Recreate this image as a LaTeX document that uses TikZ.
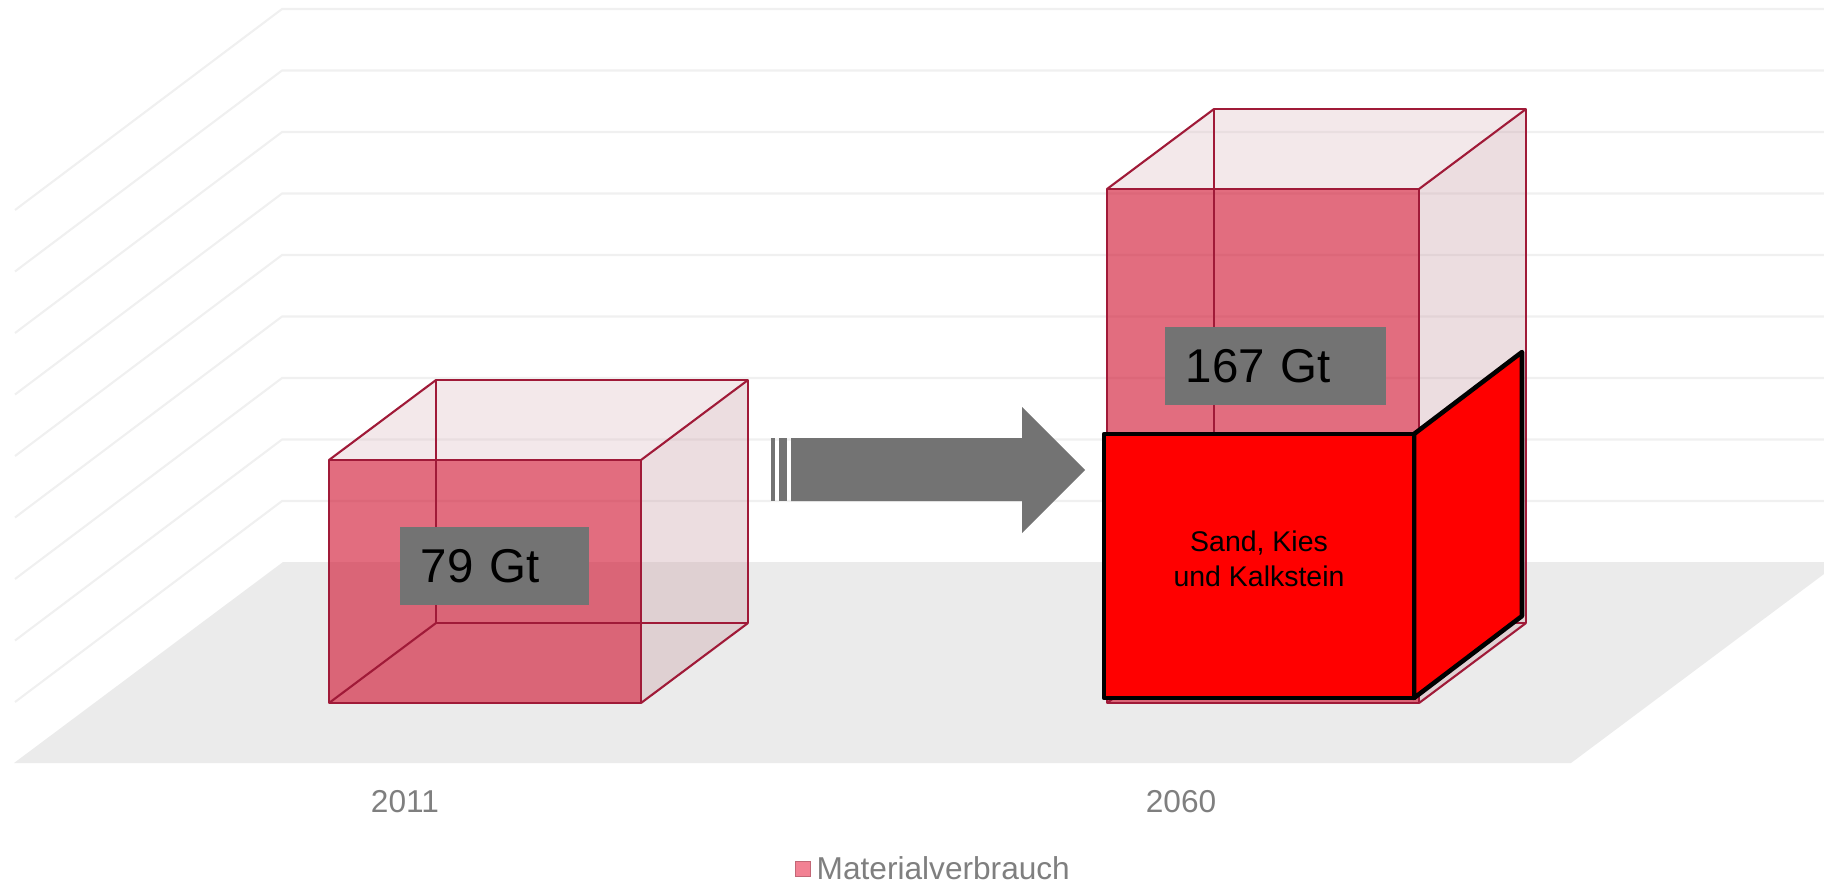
\documentclass[tikz,border=0pt]{standalone}
\usepackage{fontspec}
\setmainfont{Liberation Sans}

\definecolor{rejilla}{HTML}{F0F0F0}
\definecolor{suelo}{HTML}{EBEBEB}
\definecolor{borde}{HTML}{A01A38}
\definecolor{frente}{RGB}{210,30,58}
\definecolor{tapa}{RGB}{221,189,195}
\definecolor{lado}{RGB}{201,158,166}
\definecolor{etiqueta}{HTML}{737373}
\definecolor{textoeje}{HTML}{7F7F7F}
\definecolor{leyenda}{HTML}{F28193}

\begin{document}
\begin{tikzpicture}[x=0.1mm, y=-0.1mm]
    % Estilo para la rejilla y el suelo
    \tikzstyle{grid_style} = [draw=rejilla, line width=0.6pt]

    % Estilos para las caras de los cubos
    \tikzstyle{front_face} = [fill=frente, fill opacity=0.65]
    \tikzstyle{top_face} = [fill=tapa, fill opacity=0.35]
    \tikzstyle{side_face} = [fill=lado, fill opacity=0.35]
    \tikzstyle{edge_style} = [draw=borde, line width=0.6pt, line join=round]
    \tikzstyle{solid_style} = [fill=red, draw=black, line width=1.3pt, line join=round]

    % Estilo para las etiquetas de texto
    \tikzstyle{label_style} = [fill=etiqueta, text=black, anchor=north west, align=left, inner xsep=2.1mm, minimum height=7.8mm, font=\fontsize{13.5}{16}\selectfont]
    \tikzstyle{axis_style} = [text=textoeje, font=\fontsize{9}{11}\selectfont]
    \tikzstyle{arrow_style} = [fill=etiqueta]

    \useasboundingbox (0,0) rectangle (1824,882);

    % Suelo y rejilla del fondo
    \fill[suelo] (14,763) -- (283,562) -- (1824,562) -- (1824,574) -- (1571,763) -- cycle;
    \foreach \y in {9,70.5,...,501} {
        \draw[grid_style] (15,\y+201) -- (282,\y) -- (1824,\y);
    }

    % Cubo 2011
    \coordinate (p1) at (329,703);
    \coordinate (p2) at (641,703);
    \coordinate (p3) at (641,460);
    \coordinate (p4) at (329,460);
    \coordinate (p5) at (436,623);
    \coordinate (p6) at (748,623);
    \coordinate (p7) at (748,380);
    \coordinate (p8) at (436,380);
    \fill[top_face] (p4) -- (p3) -- (p7) -- (p8) -- cycle;
    \fill[side_face] (p2) -- (p6) -- (p7) -- (p3) -- cycle;
    \fill[front_face] (p1) rectangle (p3);
    \draw[edge_style] (p5) -- (p6) -- (p7) -- (p8) -- cycle;
    \draw[edge_style] (p1) -- (p5) (p2) -- (p6) (p3) -- (p7) (p4) -- (p8);
    \draw[edge_style] (p1) -- (p2) -- (p3) -- (p4) -- cycle;

    % Cubo 2060
    \coordinate (q1) at (1107,703);
    \coordinate (q2) at (1419,703);
    \coordinate (q3) at (1419,189);
    \coordinate (q4) at (1107,189);
    \coordinate (q5) at (1214,623);
    \coordinate (q6) at (1526,623);
    \coordinate (q7) at (1526,109);
    \coordinate (q8) at (1214,109);
    \fill[top_face] (q4) -- (q3) -- (q7) -- (q8) -- cycle;
    \fill[side_face] (q2) -- (q6) -- (q7) -- (q3) -- cycle;
    \fill[front_face] (q1) rectangle (q3);
    \draw[edge_style] (q5) -- (q6) -- (q7) -- (q8) -- cycle;
    \draw[edge_style] (q1) -- (q5) (q2) -- (q6) (q3) -- (q7) (q4) -- (q8);
    \draw[edge_style] (q1) -- (q2) -- (q3) -- (q4) -- cycle;

    % Parte de arena, grava y caliza
    \coordinate (r1) at (1104,698);
    \coordinate (r2) at (1414,698);
    \coordinate (r3) at (1414,434);
    \coordinate (r4) at (1104,434);
    \coordinate (r5) at (1522,616);
    \coordinate (r6) at (1522,352);
    \draw[solid_style] (r2) -- (r5) -- (r6) -- (r3) -- cycle;
    \draw[solid_style] (r1) -- (r2) -- (r3) -- (r4) -- cycle;

    % Flecha entre los dos cubos
    \fill[arrow_style] (771,438) rectangle (775,501);
    \fill[arrow_style] (779,438) rectangle (787,501);
    \fill[arrow_style] (791,438) -- (1022,438) -- (1022,407) -- (1085,470) -- (1022,533) -- (1022,501) -- (791,501) -- cycle;

    % Etiquetas de los valores
    \node[label_style, text width=14.7mm] (v2011) at (399,526) {79 Gt};
    \node[label_style, text width=17.9mm] (v2060) at (1164,326) {167 Gt};
    \node[align=center, font=\fontsize{8.1}{10}\selectfont] (sand) at (1259,559) {Sand, Kies\\und Kalkstein};

    % Eje y leyenda
    \node[axis_style] (a2011) at (405,802) {2011};
    \node[axis_style] (a2060) at (1181,802) {2060};
    \node[fill=leyenda, draw=leyenda!80!black, line width=0.2pt, minimum size=1.5mm, inner sep=0] (cuadro) at (802.5,868.5) {};
    \node[axis_style, anchor=west, inner sep=0] (leyenda) at (816,868) {Materialverbrauch};

\end{tikzpicture}
\end{document}
